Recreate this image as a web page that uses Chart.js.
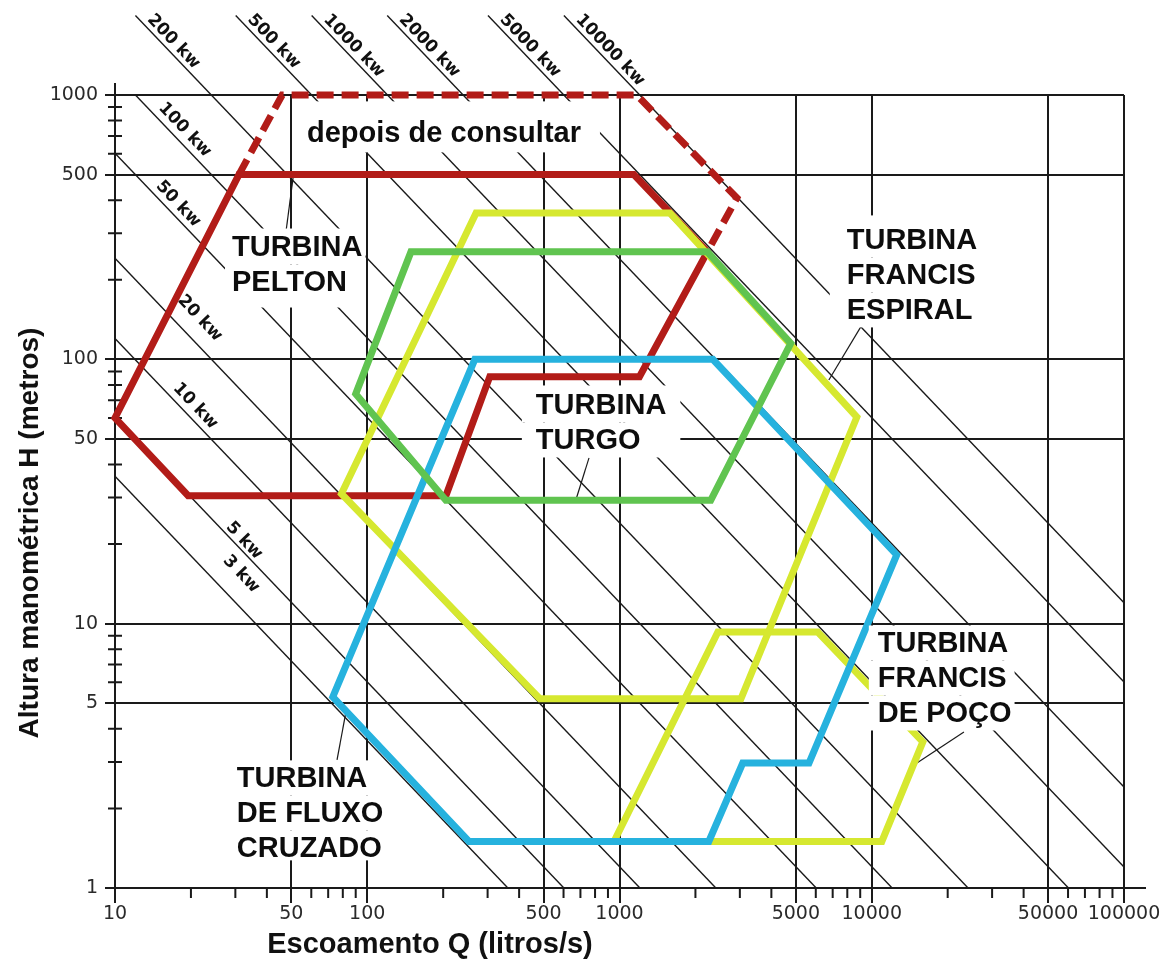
<!DOCTYPE html>
<html>
<head>
<meta charset="utf-8">
<script src="https://cdn.jsdelivr.net/npm/chart.js@4.4.1/dist/chart.umd.min.js"></script>
<style>
  html, body { margin: 0; padding: 0; background: #fff; }
</style>
</head>
<body>
<canvas id="turbinas" width="1175" height="967"></canvas>
<script>
// --- eixos log-log ---
const xTickLabels = [10, 50, 100, 500, 1000, 5000, 10000, 50000, 100000];
const yTickLabels = [1, 5, 10, 50, 100, 500, 1000];
const xMinorTicks = [20, 30, 40, 60, 70, 80, 90, 200, 300, 400, 600, 700, 800, 900,
  2000, 3000, 4000, 6000, 7000, 8000, 9000, 20000, 30000, 40000, 60000, 70000, 80000, 90000];
const yMinorTicks = [2, 3, 4, 6, 7, 8, 9, 20, 30, 40, 60, 70, 80, 90, 200, 300, 400, 600, 700, 800, 900];

// --- linhas de potencia (kW): inicio e fim de cada reta ---
const powerKw = [3, 5, 10, 20, 50, 100, 200, 500, 1000, 2000, 5000, 10000];
const powerQ0 = [10, 10, 10, 10, 10, 12.05, 12.05, 30.1, 60.2, 120, 301, 602];
const powerH0 = [36.1, 60.2, 120, 241, 602, 1000, 2000, 2000, 2000, 2000, 2000, 2000];
const powerQ1 = [361, 602, 1205, 2410, 6024, 12048, 24096, 60241, 100000, 100000, 100000, 100000];
const powerH1 = [1, 1, 1, 1, 1, 1, 1, 1, 1.2, 2.41, 6.02, 12];
// centro dos rotulos de potencia dentro do grafico (null = rotulo no topo da reta)
const powerLabelQ = [31.6, 32.5, 20.8, 21.7, 17.8, 18.9, null, null, null, null, null, null];
const powerLabelH = [15.4, 20.6, 66.6, 143, 387, 738, null, null, null, null, null, null];

// --- faixas das turbinas (Q em litros/s, H em metros) ---
const peltonQ    = [10, 31, 1140, 2230, 1200, 306, 205, 19.5, 10];
const peltonH    = [60, 500, 500, 255, 86, 86, 30.5, 30.5, 60];
const consultarQ = [31, 46, 1170, 2920, 2230];
const consultarH = [500, 1000, 1000, 408, 255];
const turgoQ     = [149, 2230, 4775, 2300, 205, 90, 149];
const turgoH     = [255, 255, 115, 29.3, 29.3, 74, 255];
const espiralQ   = [270, 1585, 8730, 3030, 483, 79, 270];
const espiralH   = [358, 358, 60.5, 5.2, 5.2, 31, 358];
const fluxoQ     = [267, 2344, 12560, 5640, 3080, 2260, 253, 73, 267];
const fluxoH     = [100, 100, 18.2, 2.97, 2.97, 1.5, 1.5, 5.28, 100];
const pocoQ      = [951, 2455, 6110, 15940, 10965, 951];
const pocoH      = [1.5, 9.3, 9.3, 3.57, 1.5, 1.5];

// --- linhas de chamada dos rotulos ---
const leaderQ0 = [50.8, 671, 6760, 15100, 82.3];
const leaderH0 = [486, 29.3, 83.5, 2.97, 4.63];
const leaderQ1 = [47.6, 757, 9060, 23200, 75.9];
const leaderH1 = [303, 42.4, 133, 3.89, 3.05];

const INK = '#1a1a1a';
const SANS = '"Liberation Sans", Arial, sans-serif';

// rotulos (ancora = inicio da primeira linha, em Q/H); block = uma caixa so
const notes = [
  { lines: ['depois de consultar'], q: 57.7, h: 719, pad: [11, 19, 14, 2], block: true },
  { lines: ['TURBINA', 'PELTON'], q: 29.1, h: 266, pad: [7, 3, 1, 8], block: true },
  { lines: ['TURBINA', 'TURGO'], q: 466, h: 67.2, pad: [14, 14, 2, 0], block: true },
  { lines: ['TURBINA', 'FRANCIS', 'ESPIRAL'], q: 7960, h: 283, pad: [17, 8, 7, 0], block: true },
  { lines: ['TURBINA', 'FRANCIS', 'DE POÇO'], q: 10570, h: 8.45, pad: [9, 3, 0, 0], block: true },
  { lines: ['TURBINA', 'DE FLUXO', 'CRUZADO'], q: 30.4, h: 2.61, pad: [5, 8, 0, -5], block: false }
];

function pts(qs, hs) {
  return qs.map((q, i) => ({ x: q, y: hs[i] }));
}

// poligono fechado: repete o 2o ponto para o canto final ficar em esquadria
function shape(label, qs, hs, color, order) {
  const data = pts(qs, hs);
  data.push({ x: qs[1], y: hs[1] });
  return { label, data, borderColor: color, borderWidth: 7, pointRadius: 0, tension: 0,
           fill: false, borderJoinStyle: 'miter', order, clip: false };
}

const datasets = [
  shape('Turgo', turgoQ, turgoH, '#60c450', 1),
  shape('Fluxo cruzado', fluxoQ, fluxoH, '#26b2de', 2),
  shape('Francis espiral', espiralQ, espiralH, '#d6e830', 3),
  shape('Francis de poço', pocoQ, pocoH, '#d6e830', 3),
  shape('Pelton', peltonQ, peltonH, '#b21c18', 4),
  { label: 'depois de consultar', data: pts(consultarQ, consultarH), borderColor: '#b21c18',
    borderWidth: 7, borderDash: [17, 8], pointRadius: 0, tension: 0, fill: false, order: 4, clip: false }
];

leaderQ0.forEach((q, i) => {
  datasets.push({ label: 'chamada', data: [{ x: q, y: leaderH0[i] }, { x: leaderQ1[i], y: leaderH1[i] }],
    borderColor: INK, borderWidth: 1.2, pointRadius: 0, order: 8, clip: false });
});

powerKw.forEach((p, i) => {
  datasets.push({ label: p + ' kw', data: [{ x: powerQ0[i], y: powerH0[i] }, { x: powerQ1[i], y: powerH1[i] }],
    borderColor: INK, borderWidth: 1.4, pointRadius: 0, order: 9, clip: false });
});

const overlay = {
  id: 'overlay',
  beforeDatasetsDraw(chart) {
    const { ctx, chartArea: a, scales: { x, y } } = chart;
    ctx.save();
    ctx.strokeStyle = INK;
    ctx.lineWidth = 2;
    ctx.beginPath();
    yMinorTicks.forEach(v => {
      const py = y.getPixelForValue(v);
      ctx.moveTo(a.left - 7, py); ctx.lineTo(a.left + 7, py);
    });
    xMinorTicks.forEach(v => {
      const px = x.getPixelForValue(v);
      ctx.moveTo(px, a.bottom); ctx.lineTo(px, a.bottom + 10);
    });
    ctx.moveTo(a.left, a.top); ctx.lineTo(a.left, a.top - 12);
    ctx.moveTo(a.right, a.bottom); ctx.lineTo(a.right + 22, a.bottom);
    ctx.stroke();
    ctx.restore();
  },
  afterDatasetsDraw(chart) {
    const { ctx, scales: { x, y } } = chart;
    ctx.save();

    // rotulos das linhas de potencia
    ctx.font = 'bold 17px "DejaVu Sans", sans-serif';
    ctx.fillStyle = '#111';
    powerKw.forEach((p, i) => {
      const x0 = x.getPixelForValue(powerQ0[i]), y0 = y.getPixelForValue(powerH0[i]);
      const x1 = x.getPixelForValue(powerQ1[i]), y1 = y.getPixelForValue(powerH1[i]);
      const ang = Math.atan2(y1 - y0, x1 - x0);
      const onTop = powerLabelQ[i] === null;
      ctx.save();
      if (onTop) {
        ctx.translate(x0, y0);
        ctx.rotate(ang);
        ctx.textAlign = 'left';
        ctx.textBaseline = 'bottom';
        ctx.fillText(p + ' kw', 11, -1);
      } else {
        ctx.translate(x.getPixelForValue(powerLabelQ[i]), y.getPixelForValue(powerLabelH[i]));
        ctx.rotate(ang);
        ctx.textAlign = 'center';
        ctx.textBaseline = 'middle';
        ctx.fillText(p + ' kw', 0, 0);
      }
      ctx.restore();
    });

    // caixas brancas + textos das turbinas
    const LH = 35;
    ctx.font = 'bold 29px ' + SANS;
    ctx.textAlign = 'left';
    ctx.textBaseline = 'middle';
    notes.forEach(n => {
      const px = x.getPixelForValue(n.q);
      const py = y.getPixelForValue(n.h);
      const [pl, pr, pt, pb] = n.pad;
      const last = n.lines.length - 1;
      const widths = n.lines.map(t => ctx.measureText(t).width);
      const widest = Math.max(...widths);
      ctx.fillStyle = '#fff';
      n.lines.forEach((t, j) => {
        const w = n.block ? widest : widths[j];
        const cy = py + j * LH;
        const top = cy - LH / 2 - (j === 0 ? pt : 0);
        const bot = cy + LH / 2 + (j === last ? pb : 0);
        ctx.fillRect(px - pl, top, w + pl + pr, bot - top);
      });
      ctx.fillStyle = '#0d0d0d';
      n.lines.forEach((t, j) => ctx.fillText(t, px, py + j * LH + 1));
    });

    // titulos dos eixos
    ctx.fillStyle = '#111';
    ctx.textAlign = 'center';
    ctx.font = 'bold 29px ' + SANS;
    ctx.fillText('Escoamento Q (litros/s)', 430, 945);
    ctx.save();
    ctx.translate(30, 533);
    ctx.rotate(-Math.PI / 2);
    ctx.font = 'bold 28px ' + SANS;
    ctx.fillText('Altura manométrica H (metros)', 0, 0);
    ctx.restore();

    ctx.restore();
  }
};

const tickFont = { family: '"DejaVu Sans", sans-serif', size: 19 };

new Chart(document.getElementById('turbinas'), {
  type: 'line',
  data: { datasets },
  options: {
    responsive: false,
    animation: false,
    layout: { padding: { top: 95, right: 51, left: 0, bottom: 0 } },
    plugins: { legend: { display: false }, tooltip: { enabled: false } },
    scales: {
      x: {
        type: 'logarithmic', min: 10, max: 100000,
        afterBuildTicks: axis => { axis.ticks = xTickLabels.map(v => ({ value: v })); },
        afterFit: axis => { axis.height = 79; },
        ticks: { callback: v => String(v), font: tickFont, color: '#2a2a2a', padding: 0,
                 autoSkip: false, maxRotation: 0 },
        grid: { color: INK, lineWidth: 2, tickLength: 15, tickColor: INK, tickWidth: 2 },
        border: { color: INK, width: 2 }
      },
      y: {
        type: 'logarithmic', min: 1, max: 1000,
        afterBuildTicks: axis => { axis.ticks = yTickLabels.map(v => ({ value: v })); },
        afterFit: axis => { axis.width = 115; },
        ticks: { callback: v => String(v), font: tickFont, color: '#2a2a2a', padding: 7, autoSkip: false },
        grid: { color: INK, lineWidth: 2, tickLength: 10, tickColor: INK, tickWidth: 2 },
        border: { color: INK, width: 2 }
      }
    }
  },
  plugins: [overlay]
});
</script>
</body>
</html>
